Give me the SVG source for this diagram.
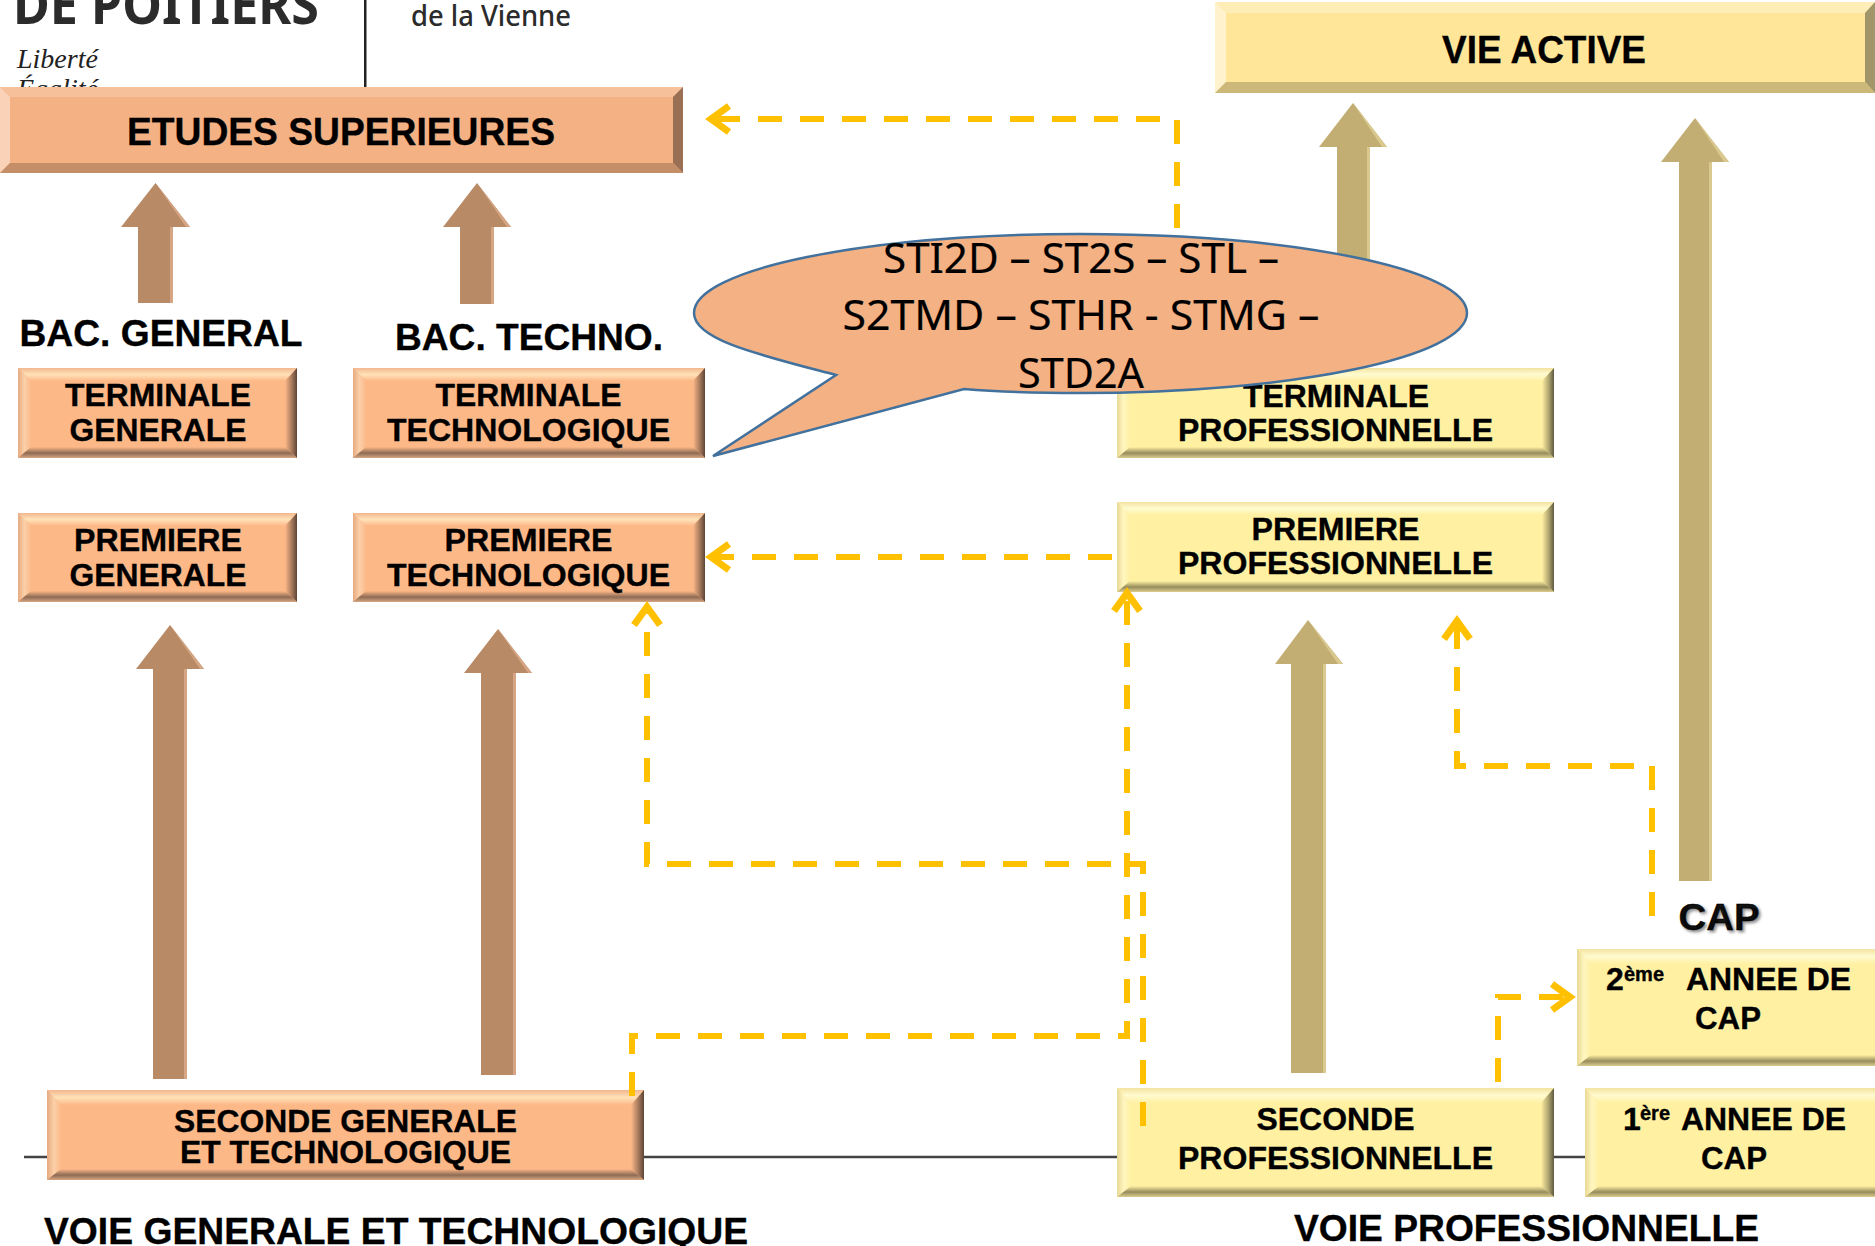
<svg xmlns="http://www.w3.org/2000/svg" width="1875" height="1246" viewBox="0 0 1875 1246">
<style>
text{font-family:"Liberation Sans",Arial,sans-serif;font-weight:700;fill:#000;text-anchor:middle;stroke:#000;stroke-width:.35px}
.t30{font-size:32px}.t35{font-size:37px}.t38{font-size:39px}
.start{text-anchor:start}
.call{font-family:"Noto Sans","Open Sans",sans-serif;font-weight:400;font-size:42px;stroke-width:.2px}
.dash{fill:none;stroke:#ffc000;stroke-width:6;stroke-dasharray:24 18;stroke-linejoin:miter}
.head{fill:none;stroke:#ffc000;stroke-width:7;stroke-linejoin:miter}
.ob{fill:url(#oT)}.ol{fill:url(#oL)}.or{fill:url(#oR)}.od{fill:url(#oB)}
.yb{fill:url(#yT)}.yl{fill:url(#yL)}.yr{fill:url(#yR)}.yd{fill:url(#yB)}
.of{fill:#fdb888}.yf{fill:#fff0a2}
.ba{fill:#b98a66}.bh{fill:#d6a684}.ka{fill:#c2ae72}.kh{fill:#d9c98f}
</style>
<defs>
<linearGradient id="oT" x1="0" y1="0" x2="0" y2="1"><stop offset="0" stop-color="#f2b78e"/><stop offset=".5" stop-color="#ffe2b8"/><stop offset="1" stop-color="#fdb888"/></linearGradient>
<linearGradient id="oL" x1="0" y1="0" x2="1" y2="0"><stop offset="0" stop-color="#e6aa80"/><stop offset=".5" stop-color="#fbd0a8"/><stop offset="1" stop-color="#fdb888"/></linearGradient>
<linearGradient id="oR" x1="0" y1="0" x2="1" y2="0"><stop offset="0" stop-color="#fdb888"/><stop offset=".55" stop-color="#a87c5e"/><stop offset="1" stop-color="#5e4536"/></linearGradient>
<linearGradient id="oB" x1="0" y1="0" x2="0" y2="1"><stop offset="0" stop-color="#fdb888"/><stop offset=".55" stop-color="#8d6b54"/><stop offset="1" stop-color="#d7a681"/></linearGradient>
<linearGradient id="yT" x1="0" y1="0" x2="0" y2="1"><stop offset="0" stop-color="#f3e3a0"/><stop offset=".5" stop-color="#fffbd0"/><stop offset="1" stop-color="#fff0a2"/></linearGradient>
<linearGradient id="yL" x1="0" y1="0" x2="1" y2="0"><stop offset="0" stop-color="#e8d894"/><stop offset=".5" stop-color="#fff6c0"/><stop offset="1" stop-color="#fff0a2"/></linearGradient>
<linearGradient id="yR" x1="0" y1="0" x2="1" y2="0"><stop offset="0" stop-color="#fff0a2"/><stop offset=".55" stop-color="#b3a772"/><stop offset="1" stop-color="#5f5a40"/></linearGradient>
<linearGradient id="yB" x1="0" y1="0" x2="0" y2="1"><stop offset="0" stop-color="#fff0a2"/><stop offset=".55" stop-color="#968c5c"/><stop offset="1" stop-color="#dccd8c"/></linearGradient>
<marker id="chev" markerUnits="userSpaceOnUse" markerWidth="40" markerHeight="40" refX="30" refY="20" orient="auto" viewBox="0 0 40 40"><path class="head" d="M12,7 L30,20 L12,33"/></marker>
</defs>
<rect width="1875" height="1246" fill="#fff"/>

<g id="header">
<text class="start" x="13" y="24" style="font-family:'Noto Sans',sans-serif;font-size:54px;fill:#2b2b2b;stroke:none" textLength="306" lengthAdjust="spacingAndGlyphs">DE POITIERS</text>
<text class="start" x="411" y="26" style="font-family:'Noto Sans',sans-serif;font-size:29px;font-weight:500;fill:#2b2b2b;stroke:none" textLength="160" lengthAdjust="spacingAndGlyphs">de la Vienne</text>
<text class="start" x="17" y="68" style="font-family:'Liberation Serif',serif;font-size:28px;font-style:italic;font-weight:400;fill:#222;stroke:none">Liberté</text>
<text class="start" x="17" y="98" style="font-family:'Liberation Serif',serif;font-size:28px;font-style:italic;font-weight:400;fill:#222;stroke:none">Égalité</text>
<rect x="364" y="0" width="2.5" height="88" fill="#222"/>
</g>

<g id="baseline"><path d="M24,1157 H1590" stroke="#444" stroke-width="2.5" fill="none"/></g>

<g id="arrows">
<path class="ba" d="M155.500,183 L190,227 H173 V303 H138 V227 H121 Z"/><path class="bh" d="M155.500,183 L190,227 H186 Z M170,227 h3 v76 h-3 Z"/>
<path class="ba" d="M477,183 L511,227 H494 V304 H460 V227 H443 Z"/><path class="bh" d="M477,183 L511,227 H507 Z M491,227 h3 v77 h-3 Z"/>
<path class="ba" d="M170,625 L204,669 H187 V1079 H153 V669 H136 Z"/><path class="bh" d="M170,625 L204,669 H200 Z M184,669 h3 v410 h-3 Z"/>
<path class="ba" d="M498,629 L532,673 H516 V1075 H481 V673 H464 Z"/><path class="bh" d="M498,629 L532,673 H528 Z M513,673 h3 v402 h-3 Z"/>
<path class="ka" d="M1353,103 L1387,147 H1370 V300 H1337 V147 H1319 Z"/><path class="kh" d="M1353,103 L1387,147 H1382 Z M1367,147 h3 v153 h-3 Z"/>
<path class="ka" d="M1695,118 L1729,162 H1712 V881 H1679 V162 H1661 Z"/><path class="kh" d="M1695,118 L1729,162 H1724 Z M1709,162 h3 v719 h-3 Z"/>
<path class="ka" d="M1308,620 L1343,664 H1326 V1073 H1291 V664 H1275 Z"/><path class="kh" d="M1308,620 L1343,664 H1338 Z M1323,664 h3 v409 h-3 Z"/>
</g>

<g id="node-etudes">
<rect x="0" y="87" width="683" height="86" fill="#f4b183"/>
<path d="M0,87 H683 L673,97 H10 Z" fill="#f6c09b"/><path d="M0,87 L10,97 V163 L0,173 Z" fill="#f9d2b8"/><path d="M683,87 V173 L673,163 V97 Z" fill="#9a7054"/><path d="M0,173 L10,163 H673 L683,173 Z" fill="#c48e69"/>
<text class="t38" x="341" y="145" textLength="428" lengthAdjust="spacingAndGlyphs">ETUDES SUPERIEURES</text>
</g>

<g id="node-vie-active">
<rect x="1215" y="2" width="660" height="91" fill="#ffe699"/>
<path d="M1215,2 H1875 L1865,13 H1226 Z" fill="#ffedb8"/><path d="M1215,2 L1226,13 V82 L1215,93 Z" fill="#fff2cc"/><path d="M1875,2 V93 L1865,82 V13 Z" fill="#a0966a"/><path d="M1215,93 L1226,82 H1865 L1875,93 Z" fill="#ccb97a"/>
<text class="t38" x="1544" y="63" textLength="204" lengthAdjust="spacingAndGlyphs">VIE ACTIVE</text>
</g>

<g id="label-bac-general"><text class="t35" x="161" y="346" textLength="283" lengthAdjust="spacingAndGlyphs">BAC. GENERAL</text></g>
<g id="label-bac-techno"><text class="t35" x="529" y="350" textLength="268" lengthAdjust="spacingAndGlyphs">BAC. TECHNO.</text></g>

<g id="node-terminale-generale">
<rect class="of" x="18" y="368" width="279" height="90"/>
<polygon class="ob" points="18,368 297,368 285,381 31,381"/><polygon class="ol" points="18,368 31,381 31,447 18,458"/><polygon class="or" points="297,368 297,458 285,447 285,381"/><polygon class="od" points="18,458 31,447 285,447 297,458"/>
<text class="t30" x="158" y="406" textLength="186" lengthAdjust="spacingAndGlyphs">TERMINALE</text><text class="t30" x="158" y="441" textLength="177" lengthAdjust="spacingAndGlyphs">GENERALE</text>
</g>
<g id="node-terminale-techno">
<rect class="of" x="353" y="368" width="352" height="90"/>
<polygon class="ob" points="353,368 705,368 693,381 366,381"/><polygon class="ol" points="353,368 366,381 366,447 353,458"/><polygon class="or" points="705,368 705,458 693,447 693,381"/><polygon class="od" points="353,458 366,447 693,447 705,458"/>
<text class="t30" x="528.500" y="406" textLength="186" lengthAdjust="spacingAndGlyphs">TERMINALE</text><text class="t30" x="528.500" y="441" textLength="283" lengthAdjust="spacingAndGlyphs">TECHNOLOGIQUE</text>
</g>
<g id="node-premiere-generale">
<rect class="of" x="18" y="513" width="279" height="89"/>
<polygon class="ob" points="18,513 297,513 285,526 31,526"/><polygon class="ol" points="18,513 31,526 31,591 18,602"/><polygon class="or" points="297,513 297,602 285,591 285,526"/><polygon class="od" points="18,602 31,591 285,591 297,602"/>
<text class="t30" x="158" y="551" textLength="168" lengthAdjust="spacingAndGlyphs">PREMIERE</text><text class="t30" x="158" y="586" textLength="177" lengthAdjust="spacingAndGlyphs">GENERALE</text>
</g>
<g id="node-premiere-techno">
<rect class="of" x="353" y="513" width="352" height="89"/>
<polygon class="ob" points="353,513 705,513 693,526 366,526"/><polygon class="ol" points="353,513 366,526 366,591 353,602"/><polygon class="or" points="705,513 705,602 693,591 693,526"/><polygon class="od" points="353,602 366,591 693,591 705,602"/>
<text class="t30" x="528.500" y="551" textLength="168" lengthAdjust="spacingAndGlyphs">PREMIERE</text><text class="t30" x="528.500" y="586" textLength="283" lengthAdjust="spacingAndGlyphs">TECHNOLOGIQUE</text>
</g>
<g id="node-terminale-pro">
<rect class="yf" x="1117" y="368" width="437" height="90"/>
<polygon class="yb" points="1117,368 1554,368 1542,381 1130,381"/><polygon class="yl" points="1117,368 1130,381 1130,447 1117,458"/><polygon class="yr" points="1554,368 1554,458 1542,447 1542,381"/><polygon class="yd" points="1117,458 1130,447 1542,447 1554,458"/>
<text class="t30" x="1336" y="407" textLength="186" lengthAdjust="spacingAndGlyphs">TERMINALE</text><text class="t30" x="1335.500" y="441" textLength="315" lengthAdjust="spacingAndGlyphs">PROFESSIONNELLE</text>
</g>
<g id="node-premiere-pro">
<rect class="yf" x="1117" y="502" width="437" height="90"/>
<polygon class="yb" points="1117,502 1554,502 1542,515 1130,515"/><polygon class="yl" points="1117,502 1130,515 1130,581 1117,592"/><polygon class="yr" points="1554,502 1554,592 1542,581 1542,515"/><polygon class="yd" points="1117,592 1130,581 1542,581 1554,592"/>
<text class="t30" x="1335.500" y="540" textLength="168" lengthAdjust="spacingAndGlyphs">PREMIERE</text><text class="t30" x="1335.500" y="574" textLength="315" lengthAdjust="spacingAndGlyphs">PROFESSIONNELLE</text>
</g>
<g id="node-seconde-generale">
<rect class="of" x="47" y="1090" width="597" height="90"/>
<polygon class="ob" points="47,1090 644,1090 631,1105 61,1105"/><polygon class="ol" points="47,1090 61,1105 61,1169 47,1180"/><polygon class="or" points="644,1090 644,1180 631,1169 631,1105"/><polygon class="od" points="47,1180 61,1169 631,1169 644,1180"/>
<text class="t30" x="345.500" y="1132" textLength="343" lengthAdjust="spacingAndGlyphs">SECONDE GENERALE</text><text class="t30" x="345.500" y="1163" textLength="331" lengthAdjust="spacingAndGlyphs">ET TECHNOLOGIQUE</text>
</g>
<g id="node-seconde-pro">
<rect class="yf" x="1117" y="1088" width="437" height="109"/>
<polygon class="yb" points="1117,1088 1554,1088 1541,1103 1131,1103"/><polygon class="yl" points="1117,1088 1131,1103 1131,1186 1117,1197"/><polygon class="yr" points="1554,1088 1554,1197 1541,1186 1541,1103"/><polygon class="yd" points="1117,1197 1131,1186 1541,1186 1554,1197"/>
<text class="t30" x="1335.500" y="1130" textLength="158" lengthAdjust="spacingAndGlyphs">SECONDE</text><text class="t30" x="1335.500" y="1169" textLength="315" lengthAdjust="spacingAndGlyphs">PROFESSIONNELLE</text>
</g>
<g id="node-premiere-cap">
<rect class="yf" x="1585" y="1088" width="290" height="109"/>
<polygon class="yb" points="1585,1088 1875,1088 1875,1103 1599,1103"/><polygon class="yl" points="1585,1088 1599,1103 1599,1186 1585,1197"/><polygon class="yd" points="1585,1197 1599,1186 1875,1186 1875,1197"/>
<text class="t30" style="text-anchor:start"><tspan x="1623" y="1130">1</tspan><tspan x="1640" y="1120" style="font-size:20px">ère</tspan><tspan x="1681" y="1130" textLength="165" lengthAdjust="spacingAndGlyphs">ANNEE DE</tspan></text>
<text class="t30" x="1734" y="1169" textLength="66" lengthAdjust="spacingAndGlyphs">CAP</text>
</g>
<g id="node-deuxieme-cap">
<rect class="yf" x="1577" y="949" width="298" height="117"/>
<polygon class="yb" points="1577,949 1875,949 1875,964 1591,964"/><polygon class="yl" points="1577,949 1591,964 1591,1055 1577,1066"/><polygon class="yd" points="1577,1066 1591,1055 1875,1055 1875,1066"/>
<text class="t30" style="text-anchor:start"><tspan x="1606" y="990">2</tspan><tspan x="1624" y="981" style="font-size:20px">ème</tspan><tspan x="1686" y="990" textLength="165" lengthAdjust="spacingAndGlyphs">ANNEE DE</tspan></text>
<text class="t30" x="1728" y="1029" textLength="66" lengthAdjust="spacingAndGlyphs">CAP</text>
</g>
<g id="label-cap"><text class="t35" x="1719" y="930" textLength="81" lengthAdjust="spacingAndGlyphs" style="text-shadow:2px 2px 3px #888">CAP</text></g>
<g id="label-voie-generale"><text class="t35" x="396" y="1244" textLength="704" lengthAdjust="spacingAndGlyphs">VOIE GENERALE ET TECHNOLOGIQUE</text></g>
<g id="label-voie-pro"><text class="t35" x="1526.500" y="1241" textLength="465" lengthAdjust="spacingAndGlyphs">VOIE PROFESSIONNELLE</text></g>

<g id="connectors">
<path class="dash" d="M1177,228 V119 H711" marker-end="url(#chev)"/>
<path class="dash" d="M1112,557 H711" marker-end="url(#chev)"/>
<path class="dash" d="M1143,1126 V864 H647 V607" marker-end="url(#chev)"/>
<path class="dash" d="M632,1096 V1036 H1127 V593" marker-end="url(#chev)"/>
<path class="dash" d="M1652,916 V766 H1457 V621" marker-end="url(#chev)"/>
<path class="dash" d="M1498,1082 V997 H1570" marker-end="url(#chev)"/>
</g>

<g id="node-callout">
<path d="M836,375 C760,355 694,340 694,313 C694,269 867,234 1080,234 C1293,234 1467,269 1467,313 C1467,357 1293,393 1080,393 C1040,393 1000,392 964,389 L713,456 Z" fill="#f4b183" stroke="#41719c" stroke-width="2.500"/>
<text class="call" x="1081" y="273" textLength="396" lengthAdjust="spacingAndGlyphs">STI2D – ST2S – STL –</text>
<text class="call" x="1081" y="330" textLength="477" lengthAdjust="spacingAndGlyphs">S2TMD – STHR - STMG –</text>
<text class="call" x="1081" y="388" textLength="126" lengthAdjust="spacingAndGlyphs">STD2A</text>
</g>
</svg>
